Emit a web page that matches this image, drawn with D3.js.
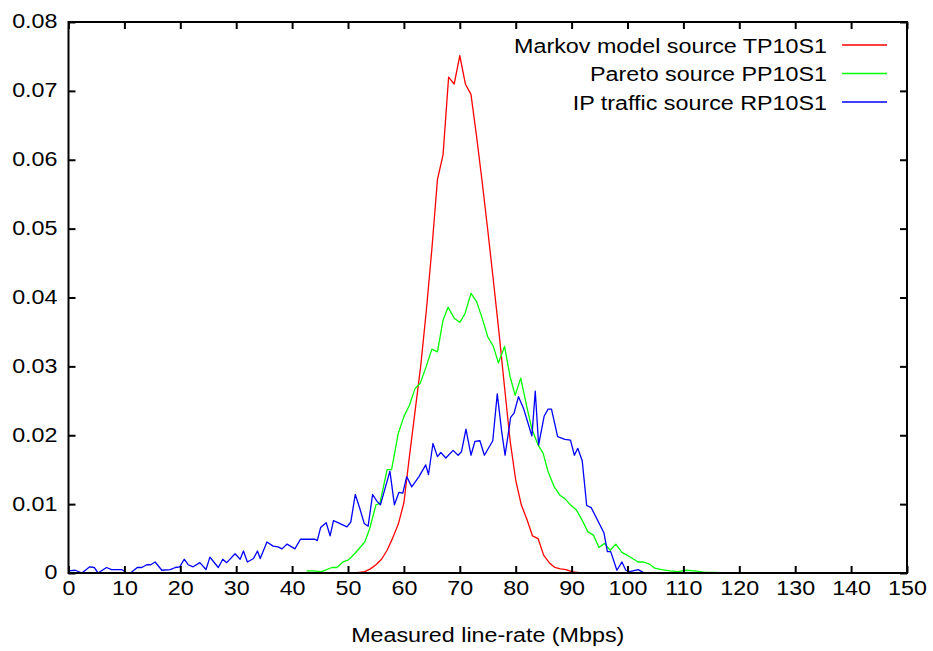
<!DOCTYPE html>
<html>
<head>
<meta charset="utf-8">
<script src="https://cdn.jsdelivr.net/npm/d3@7"></script>
<style>
  body { margin: 0; background: #fff; }
  svg text { font-family: "Liberation Sans", Arial, sans-serif; font-size: 21px; fill: #000; }
</style>
</head>
<body>
<svg id="chart"></svg>
<script>
// values: [line-rate Mbps, probability]
const markov = [
  [0, 0], [51, 0], [52, 0.0001], [53, 0.0002], [54, 0.0006], [55, 0.0012], [56, 0.002],
  [57, 0.0033], [58, 0.0051], [59, 0.0071], [60, 0.0102], [61, 0.017], [62, 0.0235],
  [63, 0.030], [64, 0.038], [65, 0.047], [66, 0.0571], [67, 0.0607], [68, 0.072],
  [69, 0.071], [70, 0.0751], [71, 0.071], [72, 0.0695], [73, 0.0634], [74, 0.0568],
  [75, 0.0498], [76, 0.0425], [77, 0.035], [78, 0.027], [79, 0.0192], [80, 0.0135],
  [81, 0.0099], [82, 0.0078], [83, 0.0054], [84, 0.005], [85, 0.0026], [86, 0.0015],
  [87, 0.0008], [88, 0.0006], [89, 0.0005], [90, 0.0002], [91, 0.0001], [92, 0], [150, 0]
];
const pareto = [
  [42.6, 0.0003], [43.8, 0.0003], [45.3, 0.0002], [47.1, 0.0008], [48, 0.0008],
  [49.1, 0.0016], [50.1, 0.0019], [51.3, 0.0029], [53, 0.0045], [53.9, 0.0065],
  [55, 0.0099], [55.7, 0.0101], [57, 0.015], [57.8, 0.015], [59, 0.0203], [60, 0.0227],
  [61, 0.0244], [62, 0.0268], [62.9, 0.0275], [64, 0.030], [65, 0.0325], [66, 0.0321],
  [67, 0.0367], [67.9, 0.0386], [69, 0.037], [70, 0.0364], [70.9, 0.0376], [72, 0.0406],
  [73, 0.0394], [74, 0.037], [75, 0.0343], [76, 0.0329], [76.9, 0.0305], [78, 0.0329],
  [79, 0.0285], [79.9, 0.0258], [80.9, 0.0283], [82, 0.0241], [82.9, 0.0209],
  [84, 0.0186], [84.9, 0.0174], [85.8, 0.0147], [86.9, 0.0125], [87.9, 0.0113],
  [88.8, 0.0108], [89.8, 0.0099], [90.9, 0.0091], [92, 0.0075], [92.9, 0.006],
  [93.9, 0.0055], [94.9, 0.0037], [95.9, 0.0043], [96.9, 0.0033], [97.9, 0.0042],
  [99, 0.003], [99.9, 0.0026], [100.9, 0.0021], [101.9, 0.0016], [102.8, 0.0016],
  [103.9, 0.0013], [104.9, 0.0007], [106.1, 0.0005], [107.6, 0.0003], [109, 0.0002],
  [110.5, 0.0004], [112, 0.0003], [114, 0.0001], [116, 0.0001]
];
const ipTraffic = [
  [0, 0.0003], [1.2, 0.0004], [2.4, 0], [3.8, 0.0009], [4.6, 0.0008], [5.3, 0],
  [6.8, 0.0008], [7.7, 0.0005], [9.5, 0.0005], [10.3, 0.0001], [11.1, 0],
  [12.3, 0.0008], [13.1, 0.0008], [14, 0.0012], [14.7, 0.0012], [15.5, 0.0016],
  [16.7, 0.0004], [18.2, 0.0005], [19.1, 0.0008], [19.9, 0.0009], [20.7, 0.002],
  [21.4, 0.0012], [22.3, 0.0009], [23.5, 0.0015], [24.6, 0.0005], [25.3, 0.0023],
  [26, 0.0016], [26.8, 0.0008], [27.6, 0.002], [28.3, 0.0015], [29.8, 0.0028],
  [30.7, 0.002], [31.3, 0.0032], [32, 0.0016], [33.1, 0.0021], [33.8, 0.0032],
  [34.3, 0.0021], [35.5, 0.0045], [36.6, 0.0039], [37.5, 0.0038], [38.2, 0.0035],
  [39.1, 0.0042], [40.5, 0.0035], [41.5, 0.0049], [44.1, 0.0049], [44.5, 0.0047],
  [45.1, 0.0066], [46.1, 0.0073], [46.8, 0.0054], [47.4, 0.0076], [48.5, 0.0072],
  [49.8, 0.0067], [50.5, 0.0074], [51.3, 0.0114], [52.1, 0.0094], [52.9, 0.0072],
  [53.6, 0.0068], [54.4, 0.0114], [55.2, 0.0104], [55.8, 0.0099], [57.5, 0.0148],
  [58.3, 0.0099], [59.1, 0.0117], [59.8, 0.0116], [60.5, 0.014], [61.4, 0.0125],
  [62.7, 0.014], [63.9, 0.0157], [64.4, 0.0143], [65.2, 0.0188], [66, 0.0169],
  [66.6, 0.0175], [67.5, 0.0167], [68.8, 0.0178], [69.7, 0.0171], [70.3, 0.0176],
  [71.1, 0.0209], [72, 0.0171], [72.7, 0.0191], [73.6, 0.0192], [74.4, 0.0171],
  [75.9, 0.0192], [76.7, 0.026], [77.5, 0.0205], [78.1, 0.0171], [79.1, 0.0226],
  [79.7, 0.0232], [80.5, 0.0256], [81.4, 0.0239], [82.9, 0.0199], [83.5, 0.0264],
  [84.1, 0.0186], [85.1, 0.0228], [85.8, 0.0238], [86.4, 0.0238], [87.5, 0.0198],
  [88.8, 0.0194], [89.8, 0.0193], [90.5, 0.0171], [91.1, 0.0181], [91.9, 0.0163],
  [92.7, 0.0098], [93.5, 0.0095], [95.8, 0.0058], [96.4, 0.0031], [97, 0.0031],
  [98.1, 0.0004], [99, 0.0016], [99.7, 0.0004], [100.4, 0.0002], [101.9, 0.0005],
  [102.8, 0.0001], [130, 0]
];

const seriesNames = ["Markov model source TP10S1", "Pareto source PP10S1", "IP traffic source RP10S1"];
const seriesColors = ["#ff0000", "#00ff00", "#0000ff"];
const xTicks = [0, 10, 20, 30, 40, 50, 60, 70, 80, 90, 100, 110, 120, 130, 140, 150];
const yTicks = [0, 0.01, 0.02, 0.03, 0.04, 0.05, 0.06, 0.07, 0.08];
const xLabel = "Measured line-rate (Mbps)";

const W = 933, H = 651;
const margin = {top: 22, right: 26, bottom: 78, left: 68.5};
const width = W - margin.left - margin.right;
const height = H - margin.top - margin.bottom;
const sx = 1.11; // text looks horizontally stretched in the original

const svg = d3.select("#chart").attr("width", W).attr("height", H);
const g = svg.append("g").attr("transform", `translate(${margin.left},${margin.top})`);

const x = d3.scaleLinear().domain([0, 150]).range([0, width]);
const y = d3.scaleLinear().domain([0, 0.08]).range([height, 0]);
const fmt = d => d === 0 ? "0" : d.toFixed(2);

// lines, drawn in gnuplot order
const line = d3.line().x(d => x(d[0])).y(d => y(d[1]));
[markov, pareto, ipTraffic].forEach((data, i) => {
  g.append("path")
    .datum(data)
    .attr("fill", "none")
    .attr("stroke", seriesColors[i])
    .attr("stroke-width", 1.3)
    .attr("stroke-linejoin", "round")
    .attr("d", line);
});

// axes with inward ticks on all four sides
function styleAxis(sel) {
  sel.select(".domain").remove();
  sel.selectAll(".tick line").attr("stroke", "#000").attr("stroke-width", 2);
}
const xAxisG = g.append("g").attr("transform", `translate(0,${height})`)
  .call(d3.axisBottom(x).tickValues(xTicks).tickSize(-7).tickPadding(7))
  .call(styleAxis);
xAxisG.selectAll("text").attr("transform", `scale(${sx},1)`).attr("x", 0)
  .style("font-size", "21px");

g.append("g")
  .call(d3.axisTop(x).tickValues(xTicks).tickSize(-7).tickFormat(""))
  .call(styleAxis);

const yAxisG = g.append("g")
  .call(d3.axisLeft(y).tickValues(yTicks).tickSize(-7).tickPadding(11).tickFormat(fmt))
  .call(styleAxis);
yAxisG.selectAll("text").attr("transform", `scale(${sx},1)`).attr("x", -11 / sx)
  .attr("dy", "0.28em").style("font-size", "21px");

g.append("g").attr("transform", `translate(${width},0)`)
  .call(d3.axisRight(y).tickValues(yTicks).tickSize(-7).tickFormat(""))
  .call(styleAxis);

// frame
g.append("rect")
  .attr("width", width).attr("height", height)
  .attr("fill", "none").attr("stroke", "#000").attr("stroke-width", 2);

// axis title
svg.append("text")
  .attr("transform", `translate(${margin.left + width / 2},642) scale(${sx},1)`)
  .attr("text-anchor", "middle")
  .text(xLabel);

// legend
const legend = svg.append("g");
seriesNames.forEach((name, i) => {
  const cy = 45 + i * 28.5;
  legend.append("text")
    .attr("transform", `translate(827,${cy + 7.5}) scale(${sx},1)`)
    .attr("text-anchor", "end")
    .text(name);
  legend.append("line")
    .attr("x1", 842).attr("x2", 887).attr("y1", cy).attr("y2", cy)
    .attr("stroke", seriesColors[i]).attr("stroke-width", 1.3);
});
</script>
</body>
</html>
